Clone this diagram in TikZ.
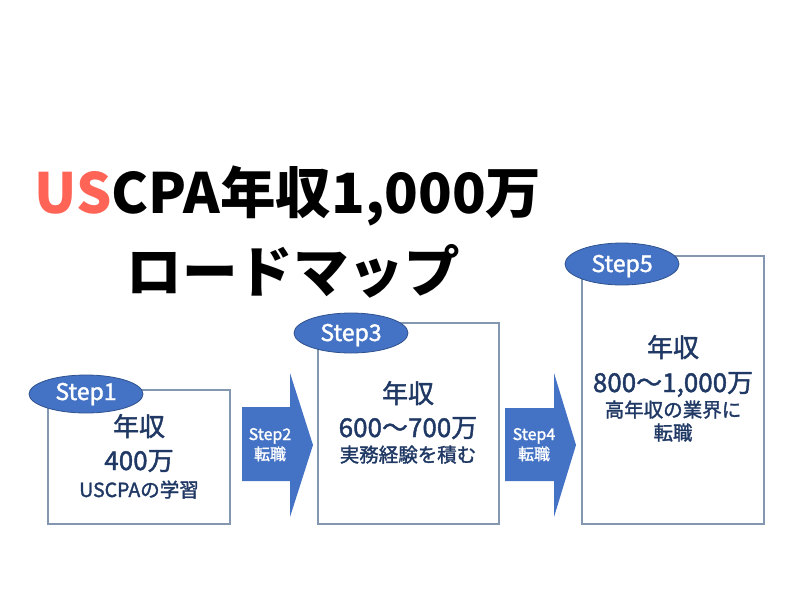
\documentclass[tikz,border=0pt]{standalone}
\usepackage{fontspec}
\setmainfont{Noto Sans CJK JP}
\newfontfamily\semibold[FakeBold=1.6]{Noto Sans CJK JP}
\definecolor{stepblue}{HTML}{4472C4}
\definecolor{stepedge}{HTML}{2F528F}
\definecolor{boxedge}{HTML}{8497B0}
\definecolor{navy}{HTML}{1F3864}
\definecolor{titlered}{HTML}{FF6456}
\tikzset{
	big/.style={anchor=base, text=navy, font=\fontsize{26}{30}\selectfont\semibold},
	small/.style={anchor=base, text=navy, font=\fontsize{19.5}{24}\selectfont\semibold},
	steptext/.style={anchor=base, text=white, font=\fontsize{23}{26}\selectfont\semibold},
	arrowtext/.style={anchor=base, text=white, font=\fontsize{16}{20}\selectfont\semibold},
	headline/.style={anchor=base, font=\fontsize{55.5}{62}\selectfont\bfseries}
}
\begin{document}
\begin{tikzpicture}[x=1pt, y=-1pt]
	\useasboundingbox (0,0) rectangle (800,600);
	% Titel
	\node[headline] (title1) at (288, 213) {\textcolor{titlered}{US}CPA年収1,000万};
	\node[headline] (title2) at (293, 292) {ロードマップ};

	% Kaesten
	\draw[boxedge, line width=1.2pt] (48, 390) rectangle (230, 524);
	\draw[boxedge, line width=1.2pt] (318, 323) rectangle (499, 524);
	\draw[boxedge, line width=1.2pt] (582, 256) rectangle (764, 524);

	% Pfeile
	\fill[stepblue] (242, 407) -- (290, 407) -- (290, 373) -- (313, 445)
	-- (290, 517) -- (290, 481) -- (242, 481) -- cycle;
	\fill[stepblue] (505, 408) -- (554, 408) -- (554, 373) -- (576, 445)
	-- (554, 517) -- (554, 481) -- (505, 481) -- cycle;
	\node[arrowtext] (a2) at (270, 440) {Step2};
	\node[arrowtext] (a2b) at (270, 460) {転職};
	\node[arrowtext] (a4) at (534, 440) {Step4};
	\node[arrowtext] (a4b) at (534, 460) {転職};

	% Ovale
	\filldraw[fill=stepblue, draw=stepedge, line width=0.8pt] (86, 394) ellipse (57 and 19);
	\filldraw[fill=stepblue, draw=stepedge, line width=0.8pt] (351, 333) ellipse (57 and 20);
	\filldraw[fill=stepblue, draw=stepedge, line width=0.8pt] (622, 264) ellipse (57 and 21);
	\node[steptext] (s1) at (86, 400) {Step1};
	\node[steptext] (s3) at (351, 341) {Step3};
	\node[steptext] (s5) at (622, 272) {Step5};

	% Texte
	\node[big] (s1a) at (139, 436) {年収};
	\node[big] (s1b) at (139, 470) {400万};
	\node[small] (s1c) at (139, 497) {USCPAの学習};
	\node[big] (s3a) at (408, 403) {年収};
	\node[big] (s3b) at (408, 437) {600〜700万};
	\node[small] (s3c) at (408, 462) {実務経験を積む};
	\node[big] (s5a) at (673, 357) {年収};
	\node[big] (s5b) at (673, 392) {800〜1,000万};
	\node[small] (s5c) at (673, 417) {高年収の業界に};
	\node[small] (s5d) at (673, 440) {転職};
\end{tikzpicture}
\end{document}
